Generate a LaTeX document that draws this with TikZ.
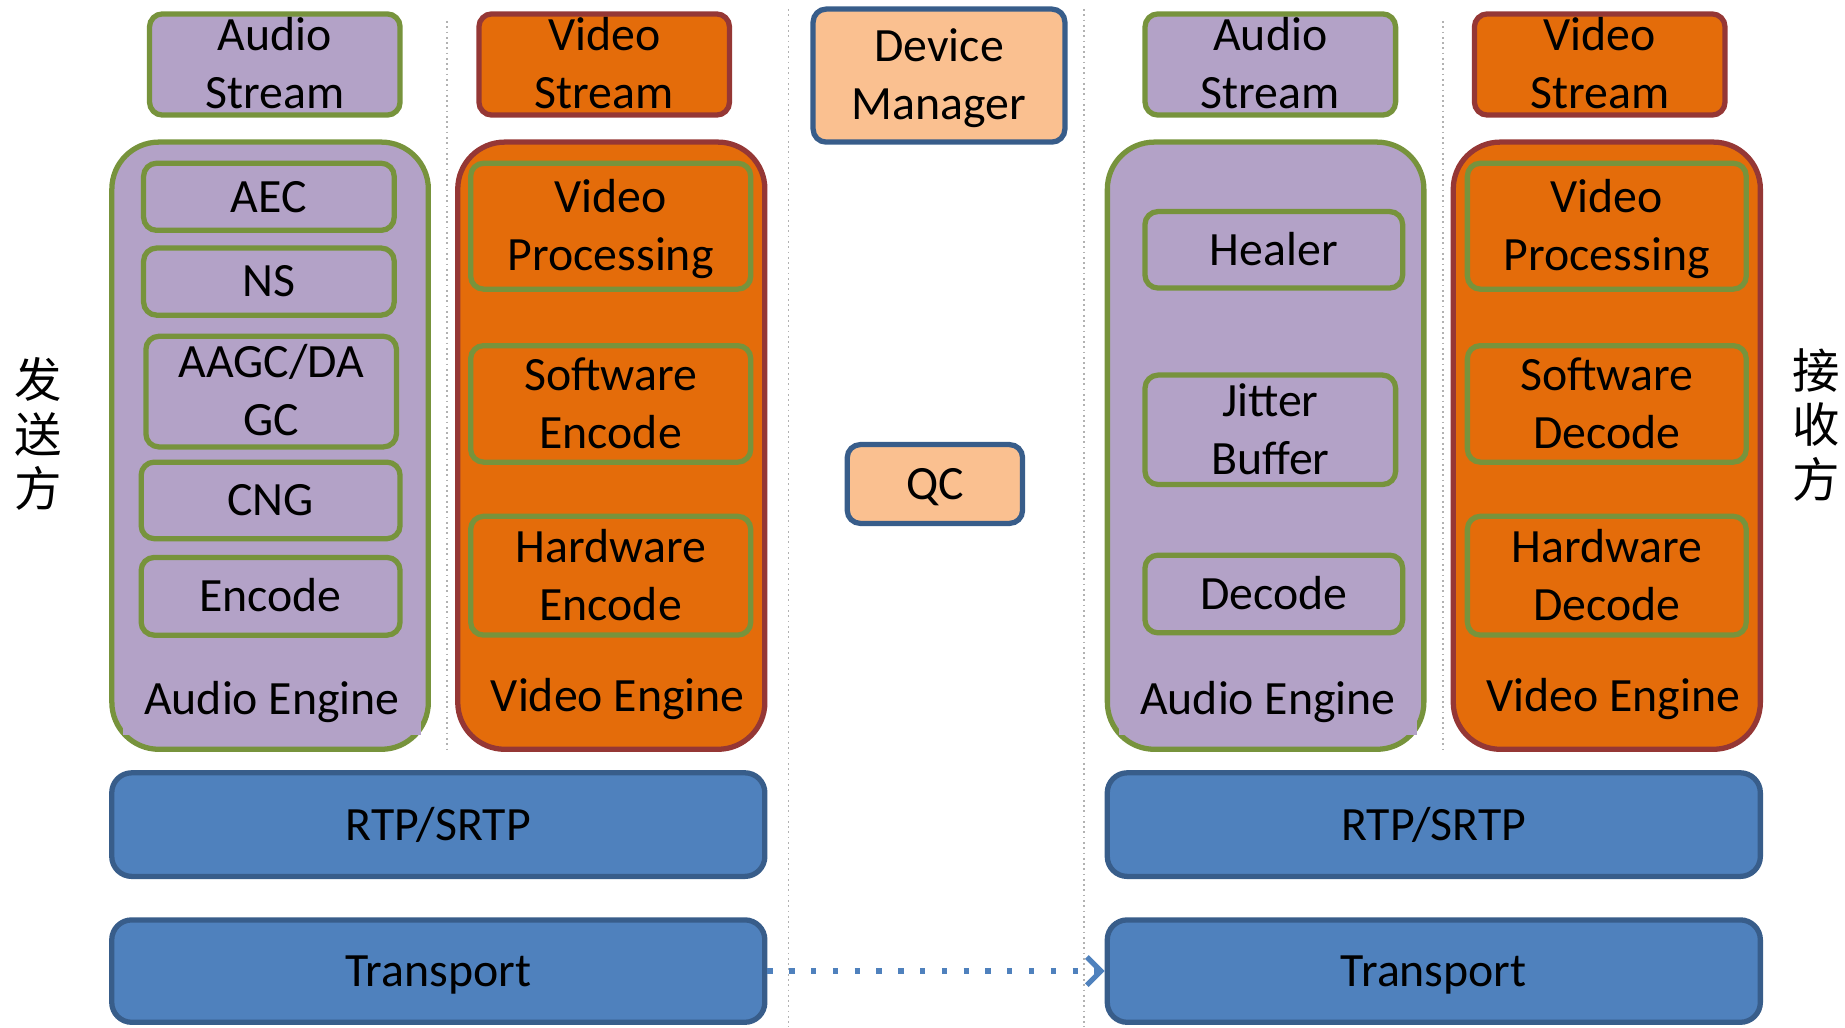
\documentclass[tikz,border=0pt]{standalone}
\usepackage{fontspec}
\setmainfont{Carlito}
\newfontfamily\cjk{Noto Sans CJK SC}
\usetikzlibrary{arrows.meta}

\definecolor{audiofill}{HTML}{B3A2C7}
\definecolor{audioline}{HTML}{77933C}
\definecolor{videofill}{HTML}{E46C0A}
\definecolor{videoline}{HTML}{953735}
\definecolor{ctrlfill}{HTML}{FAC090}
\definecolor{netfill}{HTML}{4F81BD}
\definecolor{netline}{HTML}{385D8A}

\tikzset{
  % 文字按大写字母高度居中
  oneline/.style={text height=10pt, text depth=1.24pt},
  twoline/.style={text height=26.5pt, text depth=1.24pt},
  boxtext/.style={font=\fontsize{13.6}{16.5}\selectfont, oneline},
  box/.style={draw, rounded corners=0.13cm, line width=1.5pt, align=center, inner sep=0pt, boxtext},
  audiobox/.style={box, twoline, fill=audiofill, draw=audioline},
  videobox/.style={box, twoline, fill=videofill, draw=videoline},
  amodule/.style={box, fill=audiofill, draw=audioline},
  vmodule/.style={box, twoline, fill=videofill, draw=audioline},
  ctrlbox/.style={box, fill=ctrlfill, draw=netline},
  netbox/.style={box, fill=netfill, draw=netline, rounded corners=0.2cm},
  engine/.style={draw, rounded corners=0.47cm, line width=1.5pt, minimum width=#1, minimum height=6.072cm},
  enginelabel/.style={inner sep=0pt, boxtext},
  sidelabel/.style={align=center, inner sep=0pt, font=\cjk\fontsize{13.5}{15.6}\selectfont},
  sepline/.style={gray!60, densely dotted, line width=0.5pt},
  flow/.style={netfill, line width=1.5pt, dash pattern=on 1.5pt off 4.7pt,
    -{Straight Barb[length=4pt, width=8pt, line width=1.5pt]}},
}

\begin{document}
\begin{tikzpicture}
    \useasboundingbox (0,0) rectangle (18.45,10.27);

    % 分隔线
    \coordinate (s1top) at (4.471,10.06);  \coordinate (s1bot) at (4.471,2.777);
    \coordinate (s2top) at (7.884,10.18);  \coordinate (s2bot) at (7.884,0);
    \coordinate (s3top) at (10.838,10.18); \coordinate (s3bot) at (10.838,0);
    \coordinate (s4top) at (14.426,10.06); \coordinate (s4bot) at (14.426,2.777);
    \draw[sepline] (s1top) -- (s1bot);
    \draw[sepline] (s2top) -- (s2bot);
    \draw[sepline] (s3top) -- (s3bot);
    \draw[sepline] (s4top) -- (s4bot);

    % 流
    \node[audiobox, minimum width=2.506cm, minimum height=1.012cm] (astream1) at (2.748,9.625) {Audio\\Stream};
    \node[videobox, minimum width=2.506cm, minimum height=1.012cm] (vstream1) at (6.042,9.625) {Video\\Stream};
    \node[ctrlbox, twoline, minimum width=2.518cm, minimum height=1.330cm] (devmgr) at (9.390,9.514) {Device\\Manager};
    \node[audiobox, minimum width=2.506cm, minimum height=1.012cm] (astream2) at (12.703,9.625) {Audio\\Stream};
    \node[videobox, minimum width=2.506cm, minimum height=1.012cm] (vstream2) at (15.997,9.625) {Video\\Stream};

    % 引擎
    \node[engine=3.165cm, fill=audiofill, draw=audioline] (aeng1) at (2.701,5.813) {};
    \node[engine=3.071cm, fill=videofill, draw=videoline] (veng1) at (6.113,5.813) {};
    \node[engine=3.165cm, fill=audiofill, draw=audioline] (aeng2) at (12.656,5.813) {};
    \node[engine=3.071cm, fill=videofill, draw=videoline] (veng2) at (16.068,5.813) {};

    % 发送方 音频模块
    \node[amodule, minimum width=2.506cm, minimum height=0.671cm] (aec) at (2.689,8.302) {AEC};
    \node[amodule, minimum width=2.506cm, minimum height=0.671cm] (ns) at (2.689,7.454) {NS};
    \node[amodule, twoline, minimum width=2.506cm, minimum height=1.106cm] (agc) at (2.712,6.354) {AAGC/DA\\GC};
    \node[amodule, minimum width=2.589cm, minimum height=0.765cm] (cng) at (2.706,5.266) {CNG};
    \node[amodule, minimum width=2.589cm, minimum height=0.777cm] (aenc) at (2.706,4.307) {Encode};
    \node[enginelabel, fill=audiofill, minimum width=2.98cm, minimum height=0.72cm] (alabel1) at (2.72,3.28) {Audio Engine};

    % 发送方 视频模块
    \node[vmodule, minimum width=2.801cm, minimum height=1.259cm] (vproc1) at (6.107,8.008) {Video\\Processing};
    \node[vmodule, minimum width=2.801cm, minimum height=1.165cm] (swenc) at (6.107,6.231) {Software\\Encode};
    \node[vmodule, minimum width=2.801cm, minimum height=1.188cm] (hwenc) at (6.107,4.513) {Hardware\\Encode};
    \node[enginelabel] (vlabel1) at (6.178,3.307) {Video Engine};

    % QC
    \node[ctrlbox, minimum width=1.753cm, minimum height=0.788cm] (qc) at (9.349,5.430) {QC};

    % 接收方 音频模块
    \node[amodule, minimum width=2.577cm, minimum height=0.765cm] (healer) at (12.738,7.772) {Healer};
    \node[amodule, twoline, minimum width=2.506cm, minimum height=1.094cm] (jitter) at (12.703,5.972) {Jitter\\Buffer};
    \node[amodule, minimum width=2.577cm, minimum height=0.777cm] (adec) at (12.738,4.330) {Decode};
    \node[enginelabel, fill=audiofill, minimum width=2.98cm, minimum height=0.72cm] (alabel2) at (12.68,3.28) {Audio Engine};

    % 接收方 视频模块
    \node[vmodule, minimum width=2.789cm, minimum height=1.259cm] (vproc2) at (16.068,8.008) {Video\\Processing};
    \node[vmodule, minimum width=2.789cm, minimum height=1.165cm] (swdec) at (16.068,6.231) {Software\\Decode};
    \node[vmodule, minimum width=2.789cm, minimum height=1.188cm] (hwdec) at (16.068,4.513) {Hardware\\Decode};
    \node[enginelabel] (vlabel2) at (16.133,3.307) {Video Engine};

    % 网络层
    \node[netbox, minimum width=6.531cm, minimum height=1.036cm] (rtp1) at (4.383,2.024) {RTP/SRTP};
    \node[netbox, minimum width=6.531cm, minimum height=1.024cm] (tsend) at (4.383,0.559) {Transport};
    \node[netbox, minimum width=6.531cm, minimum height=1.036cm] (rtp2) at (14.338,2.024) {RTP/SRTP};
    \node[netbox, minimum width=6.531cm, minimum height=1.024cm] (trecv) at (14.338,0.559) {Transport};

    \draw[flow] (tsend.east) -- (trecv.west);

    % 两侧
    \node[sidelabel] (sender) at (0.38,5.93) {发\\送\\方};
    \node[sidelabel] (receiver) at (18.16,6.02) {接\\收\\方};
  \end{tikzpicture}
\end{document}
